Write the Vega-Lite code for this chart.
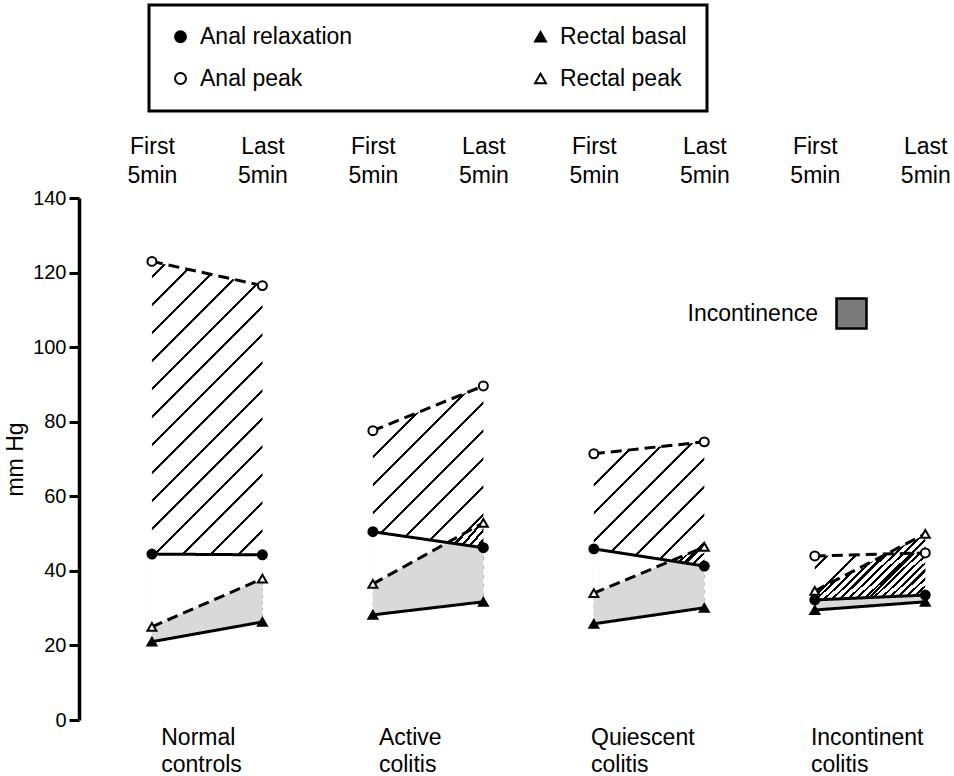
{
  "$schema": "https://vega.github.io/schema/vega-lite/v6.json",
  "width": 875,
  "height": 522,
  "autosize": {"type": "none"},
  "padding": {"left": 79, "top": 198, "right": 0, "bottom": 56},
  "background": "white",
  "config": {
    "font": "Liberation Sans",
    "view": {"stroke": null},
    "axis": {"labelColor": "black", "titleColor": "black", "domainColor": "black", "tickColor": "black", "grid": false},
    "legend": {"labelColor": "black", "strokeWidth": 3}
  },
  "data": {
    "values": [
      {"i": 1, "group": "Normal controls", "time": "First 5min", "Anal relaxation": 44.5, "Anal peak": 123, "Rectal basal": 21, "Rectal peak": 25},
      {"i": 2, "group": "Normal controls", "time": "Last 5min", "Anal relaxation": 44.3, "Anal peak": 116.5, "Rectal basal": 26.3, "Rectal peak": 37.9},
      {"i": 3, "group": "Active colitis", "time": "First 5min", "Anal relaxation": 50.5, "Anal peak": 77.6, "Rectal basal": 28.2, "Rectal peak": 36.5},
      {"i": 4, "group": "Active colitis", "time": "Last 5min", "Anal relaxation": 46.2, "Anal peak": 89.6, "Rectal basal": 31.7, "Rectal peak": 52.9},
      {"i": 5, "group": "Quiescent colitis", "time": "First 5min", "Anal relaxation": 45.9, "Anal peak": 71.4, "Rectal basal": 25.8, "Rectal peak": 34},
      {"i": 6, "group": "Quiescent colitis", "time": "Last 5min", "Anal relaxation": 41.3, "Anal peak": 74.6, "Rectal basal": 30.1, "Rectal peak": 46.4},
      {"i": 7, "group": "Incontinent colitis", "time": "First 5min", "Anal relaxation": 32.2, "Anal peak": 44, "Rectal basal": 29.5, "Rectal peak": 34.6},
      {"i": 8, "group": "Incontinent colitis", "time": "Last 5min", "Anal relaxation": 33.5, "Anal peak": 44.8, "Rectal basal": 31.7, "Rectal peak": 49.9}
    ]
  },
  "resolve": {"axis": {"x": "independent"}},
  "encoding": {
    "x": {"field": "i", "type": "quantitative", "scale": {"domain": [0.34, 8.26], "nice": false, "zero": false}, "axis": null}
  },
  "layer": [
    {
      "mark": {"type": "area", "opacity": 1, "fill": {"gradient": "linear", "x1": 0, "y1": 0, "x2": 1.135, "y2": 0.811, "stops": [
              {"offset": 0, "color": "white"},
              {"offset": 0.020, "color": "white"}, {"offset": 0.020, "color": "black"}, {"offset": 0.035, "color": "black"}, {"offset": 0.035, "color": "white"},
              {"offset": 0.062, "color": "white"}, {"offset": 0.062, "color": "black"}, {"offset": 0.077, "color": "black"}, {"offset": 0.077, "color": "white"},
              {"offset": 0.104, "color": "white"}, {"offset": 0.104, "color": "black"}, {"offset": 0.119, "color": "black"}, {"offset": 0.119, "color": "white"},
              {"offset": 0.146, "color": "white"}, {"offset": 0.146, "color": "black"}, {"offset": 0.161, "color": "black"}, {"offset": 0.161, "color": "white"},
              {"offset": 0.188, "color": "white"}, {"offset": 0.188, "color": "black"}, {"offset": 0.203, "color": "black"}, {"offset": 0.203, "color": "white"},
              {"offset": 0.231, "color": "white"}, {"offset": 0.231, "color": "black"}, {"offset": 0.246, "color": "black"}, {"offset": 0.246, "color": "white"},
              {"offset": 0.273, "color": "white"}, {"offset": 0.273, "color": "black"}, {"offset": 0.288, "color": "black"}, {"offset": 0.288, "color": "white"},
              {"offset": 0.315, "color": "white"}, {"offset": 0.315, "color": "black"}, {"offset": 0.330, "color": "black"}, {"offset": 0.330, "color": "white"},
              {"offset": 0.357, "color": "white"}, {"offset": 0.357, "color": "black"}, {"offset": 0.372, "color": "black"}, {"offset": 0.372, "color": "white"},
              {"offset": 0.399, "color": "white"}, {"offset": 0.399, "color": "black"}, {"offset": 0.414, "color": "black"}, {"offset": 0.414, "color": "white"},
              {"offset": 0.441, "color": "white"}, {"offset": 0.441, "color": "black"}, {"offset": 0.456, "color": "black"}, {"offset": 0.456, "color": "white"},
              {"offset": 0.483, "color": "white"}, {"offset": 0.483, "color": "black"}, {"offset": 0.498, "color": "black"}, {"offset": 0.498, "color": "white"},
              {"offset": 0.525, "color": "white"}, {"offset": 0.525, "color": "black"}, {"offset": 0.540, "color": "black"}, {"offset": 0.540, "color": "white"},
              {"offset": 0.567, "color": "white"}, {"offset": 0.567, "color": "black"}, {"offset": 0.582, "color": "black"}, {"offset": 0.582, "color": "white"},
              {"offset": 0.609, "color": "white"}, {"offset": 0.609, "color": "black"}, {"offset": 0.624, "color": "black"}, {"offset": 0.624, "color": "white"},
              {"offset": 0.652, "color": "white"}, {"offset": 0.652, "color": "black"}, {"offset": 0.667, "color": "black"}, {"offset": 0.667, "color": "white"},
              {"offset": 0.694, "color": "white"}, {"offset": 0.694, "color": "black"}, {"offset": 0.709, "color": "black"}, {"offset": 0.709, "color": "white"},
              {"offset": 0.736, "color": "white"}, {"offset": 0.736, "color": "black"}, {"offset": 0.751, "color": "black"}, {"offset": 0.751, "color": "white"},
              {"offset": 0.778, "color": "white"}, {"offset": 0.778, "color": "black"}, {"offset": 0.793, "color": "black"}, {"offset": 0.793, "color": "white"},
              {"offset": 0.820, "color": "white"}, {"offset": 0.820, "color": "black"}, {"offset": 0.835, "color": "black"}, {"offset": 0.835, "color": "white"},
              {"offset": 0.862, "color": "white"}, {"offset": 0.862, "color": "black"}, {"offset": 0.877, "color": "black"}, {"offset": 0.877, "color": "white"},
              {"offset": 0.904, "color": "white"}, {"offset": 0.904, "color": "black"}, {"offset": 0.919, "color": "black"}, {"offset": 0.919, "color": "white"},
              {"offset": 0.946, "color": "white"}, {"offset": 0.946, "color": "black"}, {"offset": 0.961, "color": "black"}, {"offset": 0.961, "color": "white"},
              {"offset": 0.988, "color": "white"}, {"offset": 0.988, "color": "black"}, {"offset": 1, "color": "black"}
            ]}},
      "encoding": {
        "y": {"field": "Rectal peak", "type": "quantitative", "scale": {"domain": [0, 140], "nice": false, "zero": true},
          "axis": {"orient": "left", "values": [0, 20, 40, 60, 80, 100, 120, 140], "title": "mm Hg", "titleFontSize": 23, "titleFontWeight": "normal", "titlePadding": 5,
            "labelFontSize": 20, "labelPadding": 3, "tickSize": 10, "tickWidth": 3, "domainWidth": 3.5, "grid": false}},
        "y2": {"field": "Rectal basal"},
        "detail": {"field": "group"},
        "color": {"datum": "Incontinence", "type": "nominal", "scale": {"range": ["#7a7a7a"]},
          "legend": {"orient": "none", "legendX": 756, "legendY": 99, "title": null, "padding": 0, "symbolType": "square", "symbolSize": 900,
            "symbolStrokeColor": "black", "symbolStrokeWidth": 2.5,
            "labelAlign": "right", "labelBaseline": "middle", "labelOffset": -50, "labelFontSize": 23, "labelLimit": 300}
        }
      }
    },
    {
      "mark": {"type": "area", "fill": "#d9d9d9", "opacity": 1},
      "encoding": {
        "y": {"field": "Anal relaxation", "type": "quantitative"},
        "y2": {"field": "Rectal basal"},
        "detail": {"field": "group"}
      }
    },
    {
      "mark": {"type": "area", "fill": "white", "opacity": 1},
      "encoding": {
        "y": {"field": "Rectal peak", "type": "quantitative"},
        "y2": {"datum": 140},
        "detail": {"field": "group"}
      }
    },
    {
      "transform": [{"filter": "datum.group == 'Normal controls'"}],
      "mark": {"type": "area", "opacity": 1, "fill": {"gradient": "linear", "x1": 0, "y1": 0, "x2": 0.454, "y2": 1.206, "stops": [
        {"offset": 0, "color": "transparent"},
        {"offset": 0.035, "color": "transparent"}, {"offset": 0.035, "color": "black"}, {"offset": 0.042, "color": "black"}, {"offset": 0.042, "color": "transparent"},
        {"offset": 0.104, "color": "transparent"}, {"offset": 0.104, "color": "black"}, {"offset": 0.111, "color": "black"}, {"offset": 0.111, "color": "transparent"},
        {"offset": 0.174, "color": "transparent"}, {"offset": 0.174, "color": "black"}, {"offset": 0.181, "color": "black"}, {"offset": 0.181, "color": "transparent"},
        {"offset": 0.243, "color": "transparent"}, {"offset": 0.243, "color": "black"}, {"offset": 0.250, "color": "black"}, {"offset": 0.250, "color": "transparent"},
        {"offset": 0.312, "color": "transparent"}, {"offset": 0.312, "color": "black"}, {"offset": 0.319, "color": "black"}, {"offset": 0.319, "color": "transparent"},
        {"offset": 0.382, "color": "transparent"}, {"offset": 0.382, "color": "black"}, {"offset": 0.389, "color": "black"}, {"offset": 0.389, "color": "transparent"},
        {"offset": 0.451, "color": "transparent"}, {"offset": 0.451, "color": "black"}, {"offset": 0.458, "color": "black"}, {"offset": 0.458, "color": "transparent"},
        {"offset": 0.520, "color": "transparent"}, {"offset": 0.520, "color": "black"}, {"offset": 0.527, "color": "black"}, {"offset": 0.527, "color": "transparent"},
        {"offset": 0.589, "color": "transparent"}, {"offset": 0.589, "color": "black"}, {"offset": 0.596, "color": "black"}, {"offset": 0.596, "color": "transparent"},
        {"offset": 0.659, "color": "transparent"}, {"offset": 0.659, "color": "black"}, {"offset": 0.666, "color": "black"}, {"offset": 0.666, "color": "transparent"},
        {"offset": 0.728, "color": "transparent"}, {"offset": 0.728, "color": "black"}, {"offset": 0.735, "color": "black"}, {"offset": 0.735, "color": "transparent"},
        {"offset": 0.797, "color": "transparent"}, {"offset": 0.797, "color": "black"}, {"offset": 0.804, "color": "black"}, {"offset": 0.804, "color": "transparent"},
        {"offset": 0.867, "color": "transparent"}, {"offset": 0.867, "color": "black"}, {"offset": 0.874, "color": "black"}, {"offset": 0.874, "color": "transparent"},
        {"offset": 0.936, "color": "transparent"}, {"offset": 0.936, "color": "black"}, {"offset": 0.943, "color": "black"}, {"offset": 0.943, "color": "transparent"},
        {"offset": 1, "color": "transparent"}
      ]}},
      "encoding": {
        "y": {"field": "Anal peak", "type": "quantitative"},
        "y2": {"field": "Anal relaxation"}
      }
    },
    {
      "transform": [{"filter": "datum.group == 'Active colitis'"}],
      "mark": {"type": "area", "opacity": 1, "fill": {"gradient": "linear", "x1": 0, "y1": 0, "x2": 0.784, "y2": 1.148, "stops": [
        {"offset": 0, "color": "transparent"},
        {"offset": 0.050, "color": "transparent"}, {"offset": 0.050, "color": "black"}, {"offset": 0.061, "color": "black"}, {"offset": 0.061, "color": "transparent"},
        {"offset": 0.153, "color": "transparent"}, {"offset": 0.153, "color": "black"}, {"offset": 0.164, "color": "black"}, {"offset": 0.164, "color": "transparent"},
        {"offset": 0.256, "color": "transparent"}, {"offset": 0.256, "color": "black"}, {"offset": 0.267, "color": "black"}, {"offset": 0.267, "color": "transparent"},
        {"offset": 0.358, "color": "transparent"}, {"offset": 0.358, "color": "black"}, {"offset": 0.369, "color": "black"}, {"offset": 0.369, "color": "transparent"},
        {"offset": 0.461, "color": "transparent"}, {"offset": 0.461, "color": "black"}, {"offset": 0.472, "color": "black"}, {"offset": 0.472, "color": "transparent"},
        {"offset": 0.564, "color": "transparent"}, {"offset": 0.564, "color": "black"}, {"offset": 0.575, "color": "black"}, {"offset": 0.575, "color": "transparent"},
        {"offset": 0.667, "color": "transparent"}, {"offset": 0.667, "color": "black"}, {"offset": 0.678, "color": "black"}, {"offset": 0.678, "color": "transparent"},
        {"offset": 0.770, "color": "transparent"}, {"offset": 0.770, "color": "black"}, {"offset": 0.781, "color": "black"}, {"offset": 0.781, "color": "transparent"},
        {"offset": 0.872, "color": "transparent"}, {"offset": 0.872, "color": "black"}, {"offset": 0.883, "color": "black"}, {"offset": 0.883, "color": "transparent"},
        {"offset": 0.975, "color": "transparent"}, {"offset": 0.975, "color": "black"}, {"offset": 0.986, "color": "black"}, {"offset": 0.986, "color": "transparent"},
        {"offset": 1, "color": "transparent"}
      ]}},
      "encoding": {
        "y": {"field": "Anal peak", "type": "quantitative"},
        "y2": {"field": "Anal relaxation"}
      }
    },
    {
      "transform": [{"filter": "datum.group == 'Quiescent colitis'"}],
      "mark": {"type": "area", "opacity": 1, "fill": {"gradient": "linear", "x1": 0, "y1": 0, "x2": 0.938, "y2": 1.055, "stops": [
        {"offset": 0, "color": "transparent"},
        {"offset": 0.060, "color": "transparent"}, {"offset": 0.060, "color": "black"}, {"offset": 0.073, "color": "black"}, {"offset": 0.073, "color": "transparent"},
        {"offset": 0.179, "color": "transparent"}, {"offset": 0.179, "color": "black"}, {"offset": 0.192, "color": "black"}, {"offset": 0.192, "color": "transparent"},
        {"offset": 0.299, "color": "transparent"}, {"offset": 0.299, "color": "black"}, {"offset": 0.312, "color": "black"}, {"offset": 0.312, "color": "transparent"},
        {"offset": 0.418, "color": "transparent"}, {"offset": 0.418, "color": "black"}, {"offset": 0.431, "color": "black"}, {"offset": 0.431, "color": "transparent"},
        {"offset": 0.537, "color": "transparent"}, {"offset": 0.537, "color": "black"}, {"offset": 0.550, "color": "black"}, {"offset": 0.550, "color": "transparent"},
        {"offset": 0.657, "color": "transparent"}, {"offset": 0.657, "color": "black"}, {"offset": 0.670, "color": "black"}, {"offset": 0.670, "color": "transparent"},
        {"offset": 0.776, "color": "transparent"}, {"offset": 0.776, "color": "black"}, {"offset": 0.789, "color": "black"}, {"offset": 0.789, "color": "transparent"},
        {"offset": 0.895, "color": "transparent"}, {"offset": 0.895, "color": "black"}, {"offset": 0.908, "color": "black"}, {"offset": 0.908, "color": "transparent"},
        {"offset": 1, "color": "transparent"}
      ]}},
      "encoding": {
        "y": {"field": "Anal peak", "type": "quantitative"},
        "y2": {"field": "Anal relaxation"}
      }
    },
    {
      "transform": [{"filter": "datum.group == 'Incontinent colitis'"}],
      "mark": {"type": "area", "opacity": 1, "fill": {"gradient": "linear", "x1": 0, "y1": 0, "x2": 1.207, "y2": 0.513, "stops": [
        {"offset": 0, "color": "transparent"},
        {"offset": 0.090, "color": "transparent"}, {"offset": 0.090, "color": "black"}, {"offset": 0.109, "color": "black"}, {"offset": 0.109, "color": "transparent"},
        {"offset": 0.268, "color": "transparent"}, {"offset": 0.268, "color": "black"}, {"offset": 0.287, "color": "black"}, {"offset": 0.287, "color": "transparent"},
        {"offset": 0.446, "color": "transparent"}, {"offset": 0.446, "color": "black"}, {"offset": 0.465, "color": "black"}, {"offset": 0.465, "color": "transparent"},
        {"offset": 0.623, "color": "transparent"}, {"offset": 0.623, "color": "black"}, {"offset": 0.642, "color": "black"}, {"offset": 0.642, "color": "transparent"},
        {"offset": 0.801, "color": "transparent"}, {"offset": 0.801, "color": "black"}, {"offset": 0.820, "color": "black"}, {"offset": 0.820, "color": "transparent"},
        {"offset": 0.979, "color": "transparent"}, {"offset": 0.979, "color": "black"}, {"offset": 0.998, "color": "black"}, {"offset": 0.998, "color": "transparent"},
        {"offset": 1, "color": "transparent"}
      ]}},
      "encoding": {
        "y": {"field": "Anal peak", "type": "quantitative"},
        "y2": {"field": "Anal relaxation"}
      }
    },
    {
      "transform": [{"fold": ["Anal relaxation", "Anal peak", "Rectal basal", "Rectal peak"], "as": ["series", "value"]}],
      "mark": {"type": "line", "stroke": "black", "strokeWidth": 3, "strokeCap": "butt"},
      "encoding": {
        "x": {"field": "i", "type": "quantitative", "scale": {"domain": [0.34, 8.26], "nice": false, "zero": false},
          "axis": {"orient": "bottom", "values": [1.08, 3.05, 4.97, 6.96],
            "labelExpr": "datum.value < 2 ? ['Normal','controls'] : datum.value < 4 ? ['Active','colitis'] : datum.value < 6 ? ['Quiescent','colitis'] : ['Incontinent','colitis']",
            "domain": false, "ticks": false, "tickSize": 0, "labelAlign": "left", "labelBaseline": "top", "labelPadding": 6,
            "labelFontSize": 23, "labelLineHeight": 27, "labelFlush": false, "labelOverlap": false, "labelBound": false, "title": null, "grid": false}},
        "y": {"field": "value", "type": "quantitative"},
        "detail": {"field": "group"},
        "strokeDash": {"field": "series", "type": "nominal",
          "scale": {"domain": ["Anal peak", "Anal relaxation", "Rectal peak", "Rectal basal"], "range": [[11, 6], [1, 0], [11, 6], [1, 0]]},
          "legend": null}
      }
    },
    {
      "transform": [{"fold": ["Anal relaxation", "Anal peak", "Rectal basal", "Rectal peak"], "as": ["series", "value"]}],
      "mark": {"type": "point", "filled": true, "strokeWidth": 2, "opacity": 1, "size": 80},
      "encoding": {
        "x": {"field": "i", "type": "quantitative", "scale": {"domain": [0.34, 8.26], "nice": false, "zero": false},
          "axis": {"orient": "top", "values": [1, 2, 3, 4, 5, 6, 7, 8],
            "labelExpr": "datum.value % 2 == 1 ? ['First','5min'] : ['Last','5min']",
            "domain": false, "ticks": false, "tickSize": 0, "labelAlign": "center", "labelBaseline": "bottom", "labelPadding": 40,
            "labelFontSize": 23, "labelLineHeight": 29, "labelFlush": false, "labelOverlap": false, "labelBound": false, "title": null, "grid": false}},
        "y": {"field": "value", "type": "quantitative"},
        "detail": {"field": "group"},
        "shape": {"field": "series", "type": "nominal",
          "scale": {"domain": ["Anal relaxation", "Anal peak", "Rectal basal", "Rectal peak"], "range": ["circle", "circle", "triangle-up", "triangle-up"]},
          "legend": {"orient": "none", "legendX": 70, "legendY": -193, "title": null, "columns": 2, "columnPadding": 176, "rowPadding": 18,
            "padding": 20, "strokeColor": "black", "fillColor": "white", "symbolSize": 120, "symbolStrokeWidth": 2,
            "labelFontSize": 23, "labelLimit": 300, "labelOffset": 8, "labelAlign": "left", "labelBaseline": "middle"}},
        "fill": {"field": "series", "type": "nominal",
          "scale": {"domain": ["Anal relaxation", "Anal peak", "Rectal basal", "Rectal peak"], "range": ["black", "white", "black", "white"]}},
        "stroke": {"field": "series", "type": "nominal",
          "scale": {"domain": ["Anal relaxation", "Anal peak", "Rectal basal", "Rectal peak"], "range": ["black", "black", "black", "black"]}}
      }
    }
  ]
}
